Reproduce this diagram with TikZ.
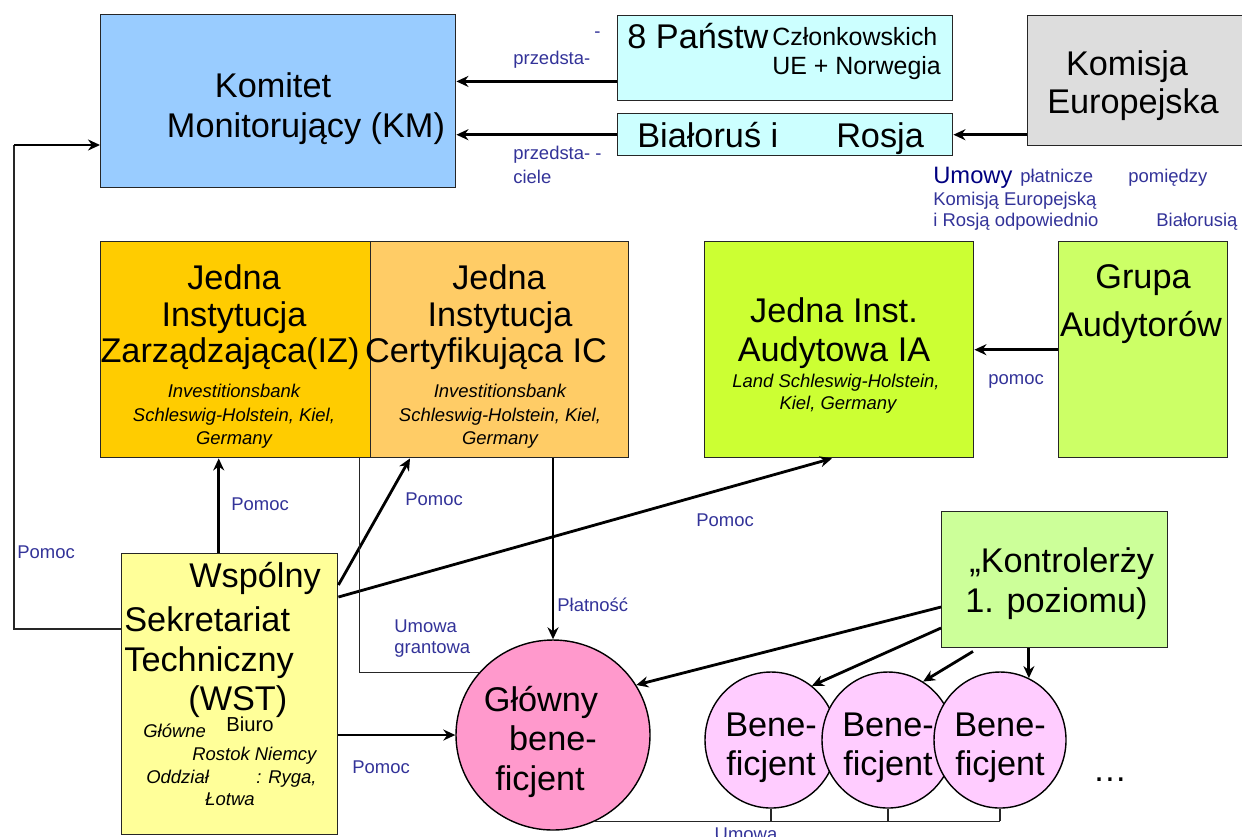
\documentclass[tikz,border=0pt]{standalone}
\usepackage{fontspec}
\setmainfont{Liberation Sans}
\usetikzlibrary{shapes.geometric, arrows.meta, positioning, calc}
\definecolor{kmBlue}{RGB}{153,204,255}
\definecolor{stateCyan}{RGB}{204,255,255}
\definecolor{ecGray}{RGB}{221,221,221}
\definecolor{izGold}{RGB}{255,204,0}
\definecolor{icOrange}{RGB}{255,204,102}
\definecolor{iaLime}{RGB}{204,255,51}
\definecolor{grupaGreen}{RGB}{204,255,102}
\definecolor{wstYellow}{RGB}{255,255,153}
\definecolor{kontrGreen}{RGB}{204,255,153}
\definecolor{mainPink}{RGB}{255,153,204}
\definecolor{benePink}{RGB}{255,204,255}
\definecolor{lblBlue}{RGB}{51,51,153}
\definecolor{navy}{RGB}{0,0,128}
\newcommand{\bigfont}{\fontsize{19.5}{22}\selectfont}
\newcommand{\midfont}{\fontsize{14.2}{17}\selectfont}
\newcommand{\smallfont}{\fontsize{10.5}{12}\selectfont}

\begin{document}
\begin{tikzpicture}[x=0.2mm, y=-0.2mm,
    box/.style={draw=black!85, line width=0.8pt, inner sep=0pt, anchor=north west},
    ell/.style={ellipse, draw=black, line width=0.8pt, inner sep=0pt},
    arr/.style={-{Stealth[length=2.4mm, width=2.2mm]}, line width=1.6pt},
    thinline/.style={line width=0.8pt, black!85},
    txt/.style={anchor=base, inner sep=0pt, font=\bigfont},
    subtxt/.style={anchor=base, inner sep=0pt, font=\smallfont\itshape},
    lbl/.style={anchor=west, inner sep=0pt, font=\smallfont, text=lblBlue}]
  \useasboundingbox (0,0) rectangle (1242,836);
  \clip (0,0) rectangle (1242,836);
  \fill[white] (0,0) rectangle (1242,836);

  % Top row
  \node[box, fill=kmBlue, minimum width=71mm, minimum height=34.6mm] (km) at (100,14) {};
  \node[txt] (kmA) at (273,97) {Komitet};
  \node[txt] (kmB) at (306,137) {Monitorujący (KM)};
  \node[box, fill=stateCyan, minimum width=67mm, minimum height=17mm] (eight) at (617,15) {};
  \node[txt, anchor=base west] (eightA) at (627,48) {8 Państw};
  \node[txt, anchor=base west, font=\midfont] (eightB) at (772,45) {Członkowskich};
  \node[txt, anchor=base west, font=\midfont] (eightC) at (772,74) {UE + Norwegia};
  \node[box, fill=stateCyan, minimum width=67mm, minimum height=8.4mm] (bialo) at (617,113) {};
  \node[txt, anchor=base west] (bialoA) at (637,147) {Białoruś i\hspace{33pt}Rosja};
  \node[box, fill=ecGray, minimum width=46mm, minimum height=26mm] (komisja) at (1027,15) {};
  \node[txt] (komisjaA) at (1127,75) {Komisja};
  \node[txt] (komisjaB) at (1133,113) {Europejska};

  \draw[arr] ([yshift=4mm]eight.south west) -- ([yshift=4mm]eight.south west -| km.east);
  \draw[arr] (bialo.west) -- (bialo.west -| km.east);
  \draw[arr] (komisja.west |- bialo.east) -- (bialo.east);
  \node[lbl] (przA) at (594,35) {-};
  \node[lbl] (przB) at (513,60) {przedsta-};
  \node[lbl] (przC) at (513,155) {przedsta- -};
  \node[lbl] (przD) at (513,177) {ciele};

  % Umowy platnicze
  \node[anchor=base west, inner sep=0pt, font=\fontsize{13.5}{15}\selectfont, text=navy] (umA) at (933,183) {Umowy};
  \node[lbl, anchor=base west] (umB) at (1020,182) {płatnicze};
  \node[lbl, anchor=base west] (umC) at (1128,182) {pomiędzy};
  \node[lbl, anchor=base west] (umD) at (933,205) {Komisją Europejską};
  \node[lbl, anchor=base west] (umE) at (933,226) {i Rosją odpowiednio};
  \node[lbl, anchor=base west] (umF) at (1156,226) {Białorusią};

  % Middle row
  \node[box, fill=izGold, minimum width=54mm, minimum height=43.2mm] (iz) at (100,241) {};
  \node[txt] (izA) at (234,289) {Jedna};
  \node[txt] (izB) at (234,326) {Instytucja};
  \node[txt] (izC) at (230,362) {Zarządzająca(IZ)};
  \node[subtxt] (izD) at (234,397) {Investitionsbank};
  \node[subtxt] (izE) at (234,421) {Schleswig-Holstein, Kiel,};
  \node[subtxt] (izF) at (234,444) {Germany};
  \node[box, fill=icOrange, minimum width=51.6mm, minimum height=43.2mm] (ic) at (370,241) {};
  \node[txt] (icA) at (499,289) {Jedna};
  \node[txt] (icB) at (500,326) {Instytucja};
  \node[txt] (icC) at (486,362) {Certyfikująca IC};
  \node[subtxt] (icD) at (500,397) {Investitionsbank};
  \node[subtxt] (icE) at (500,421) {Schleswig-Holstein, Kiel,};
  \node[subtxt] (icF) at (500,444) {Germany};
  \node[box, fill=iaLime, minimum width=53.8mm, minimum height=43.2mm] (ia) at (704,241) {};
  \node[txt] (iaA) at (834,322) {Jedna Inst.};
  \node[txt] (iaB) at (834,361) {Audytowa IA};
  \node[subtxt] (iaC) at (836,387) {Land Schleswig-Holstein,};
  \node[subtxt] (iaD) at (838,409) {Kiel, Germany};
  \node[box, fill=grupaGreen, minimum width=33.8mm, minimum height=43.2mm] (grupa) at (1058,241) {};
  \node[txt] (grupaA) at (1143,288) {Grupa};
  \node[txt] (grupaB) at (1141,336) {Audytorów};
  \draw[arr] (grupa.west) -- (grupa.west -| ia.east);
  \node[lbl] (pomocIA) at (988,381) {pomoc};

  % WST
  \node[box, fill=wstYellow, minimum width=43.2mm, minimum height=56.2mm] (wst) at (121,553) {};
  \node[txt, anchor=base west] (wstA) at (189,587) {Wspólny};
  \node[txt, anchor=base west] (wstB) at (124,631) {Sekretariat};
  \node[txt, anchor=base west] (wstC) at (124,671) {Techniczny};
  \node[txt, anchor=base west] (wstD) at (188,710) {(WST)};
  \node[subtxt, anchor=base west] (wstE) at (143,737) {Główne};
  \node[anchor=base west, inner sep=0pt, font=\fontsize{11.5}{13}\selectfont] (wstF) at (226,731) {Biuro};
  \node[subtxt, anchor=base west] (wstG) at (192,760) {Rostok Niemcy};
  \node[subtxt, anchor=base west] (wstH) at (146,783) {Oddział};
  \node[subtxt, anchor=base west] (wstI) at (256,783) {: Ryga,};
  \node[subtxt, anchor=base west] (wstJ) at (205,805) {Łotwa};

  % Kontrolerzy
  \node[box, fill=kontrGreen, minimum width=45.2mm, minimum height=27.2mm] (kontr) at (941,511) {};
  \node[txt, anchor=base west] (kontrA) at (969,572) {„Kontrolerży};
  \node[txt, anchor=base west] (kontrB) at (965,612) {1. poziomu)};

  % Beneficjenci
  \node[ell, fill=mainPink, minimum width=38.8mm, minimum height=38mm] (glowny) at (553,735) {};
  \node[txt] (glownyA) at (541,711) {Główny};
  \node[txt] (glownyB) at (553,750) {bene-};
  \node[txt] (glownyC) at (540,790) {ficjent};
  \foreach \bn/\bx in {bene1/771, bene2/888, bene3/1000} {
    \node[ell, fill=benePink, minimum width=26.4mm, minimum height=27.2mm] (\bn) at (\bx,740) {};
    \node[txt] (\bn A) at (\bx,736) {Bene-};
    \node[txt] (\bn B) at (\bx,775) {ficjent};
  }
  \node[txt] (dots) at (1110,781) {\dots};

  % Connectors
  \draw[arr] ([xshift=-2.2mm]wst.north) -- ([xshift=-2.2mm]wst.north |- iz.south);
  \draw[arr] ([yshift=-6.4mm]wst.north east) -- ([xshift=8mm]ic.south west);
  \draw[arr] ([yshift=-8.8mm]wst.north east) -- ([xshift=25.6mm]ia.south west);
  \draw[arr] (ic.south -| glowny.north) -- (glowny.north);
  \draw[arr] (wst.east |- glowny.west) -- (glowny.west);
  \draw[thinline] ([xshift=-2.4mm]iz.south east) |- (glowny.140);
  \coordinate (pomocbend) at (14,145);
  \draw[thinline] ([yshift=-15.2mm]wst.north west) -| (pomocbend);
  \draw[arr] (pomocbend) -- (pomocbend -| km.west);
  \draw[arr] ([yshift=-19.2mm]kontr.north west) -- (glowny.31);
  \draw[arr] ([yshift=-23.4mm]kontr.north west) -- (bene1.53);
  \draw[arr] ([xshift=6.4mm,yshift=-0.6mm]kontr.south west) -- (bene2.59);
  \draw[arr] (bene3.65 |- kontr.south) -- (bene3.65);
  \draw[thinline] (glowny.-64) -- (glowny.-64 -| bene3.south);
  \foreach \bn in {bene1,bene2,bene3}
    \draw[thinline] (\bn.south) -- (\bn.south |- glowny.-64);

  % Labels
  \node[lbl] (pomocIZ) at (231,504) {Pomoc};
  \node[lbl] (pomocIC) at (405,499) {Pomoc};
  \node[lbl] (pomocIAB) at (696,520) {Pomoc};
  \node[lbl] (pomocKM) at (17,552) {Pomoc};
  \node[lbl] (pomocGB) at (352,767) {Pomoc};
  \node[lbl] (platnosc) at (557,605) {Płatność};
  \node[lbl, align=left, font=\fontsize{10.5}{12}\selectfont] (grant) at (394,639) {Umowa\\grantowa};
  \node[lbl, anchor=base] (umowa) at (746,840) {Umowa};
\end{tikzpicture}
\end{document}
